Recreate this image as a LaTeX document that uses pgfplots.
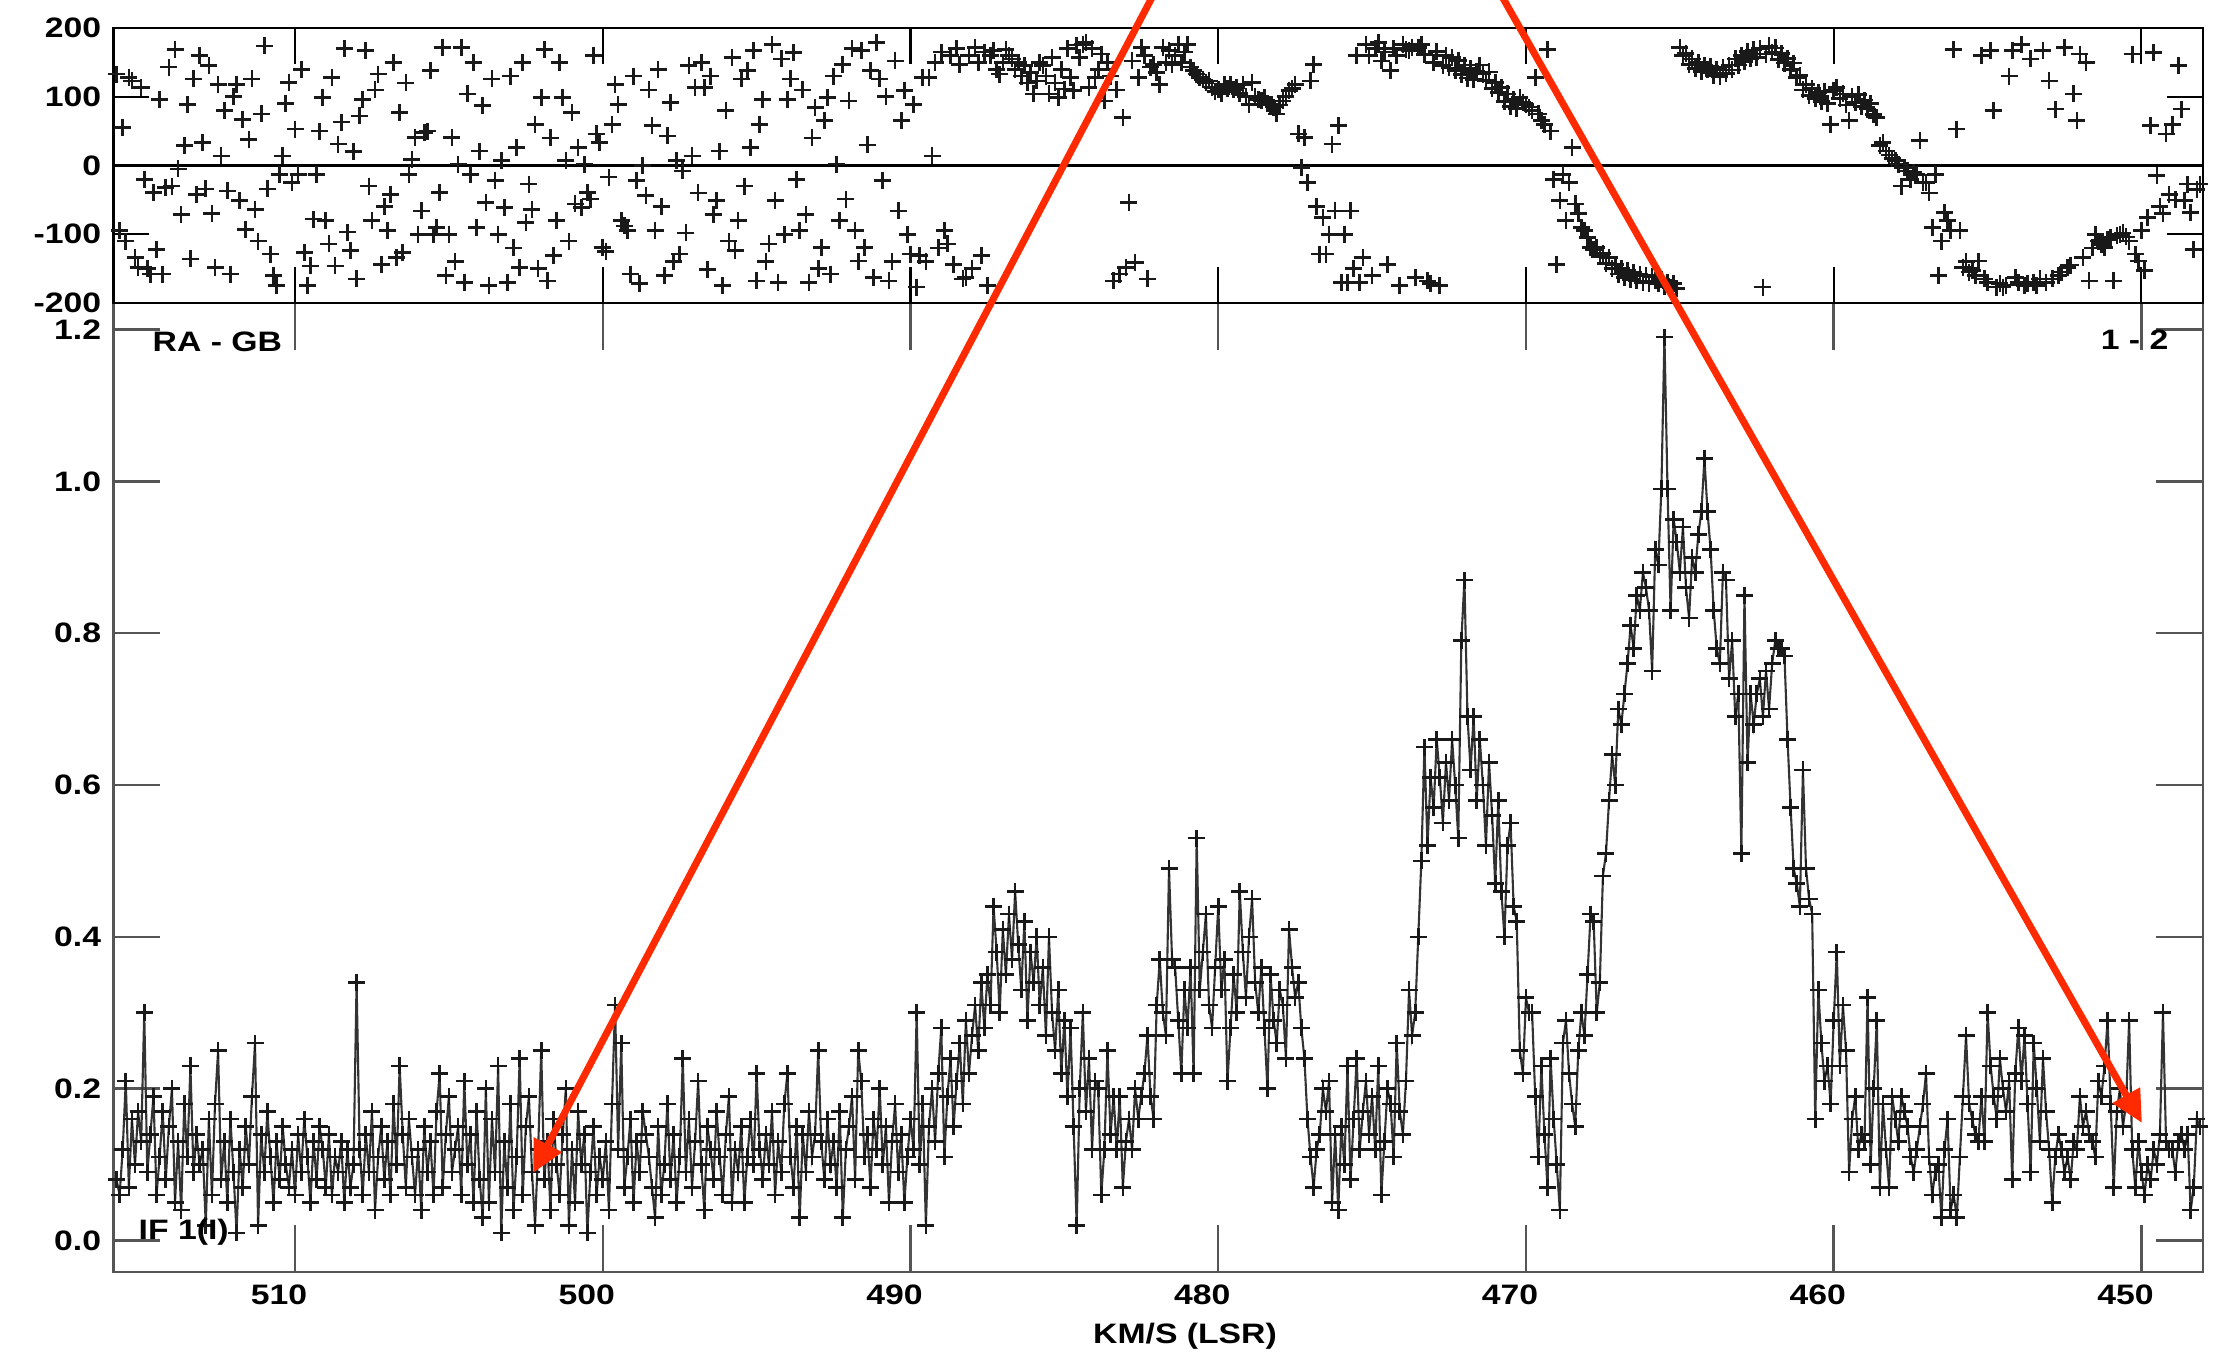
\documentclass[border=0pt]{standalone}
\usepackage{pgfplots}
\pgfplotsset{compat=1.18}
\usepackage{pgfplotstable}
\usepackage{fontspec}
\setmainfont{Liberation Sans}[FakeStretch=1.2]
\usetikzlibrary{arrows.meta}
\definecolor{arrowred}{HTML}{FF2A00}
\definecolor{axgray}{HTML}{555555}
\newcommand{\lab}{\bfseries\fontsize{8}{9}\selectfont}

\pgfplotstableread{
x a p
515.8 0.08 133
515.7 0.06 -95
515.6 0.12 55
515.5 0.21 -110
515.4 0.07 128
515.3 0.16 123
515.2 0.10 -134
515.1 0.17 -148
515.0 0.13 113
514.9 0.30 -20
514.8 0.09 -150
514.7 0.14 -158
514.6 0.19 -39
514.5 0.06 -122
514.4 0.11 96
514.3 0.17 -158
514.2 0.08 -32
514.1 0.15 143
514.0 0.20 -30
513.9 0.05 169
513.8 0.13 -5
513.7 0.04 -71
513.6 0.18 29
513.5 0.11 89
513.4 0.23 -136
513.3 0.09 126
513.2 0.14 -42
513.1 0.10 160
513.0 0.12 33
512.9 0.02 -34
512.8 0.16 145
512.7 0.06 -70
512.6 0.18 -148
512.5 0.25 118
512.4 0.08 14
512.3 0.13 80
512.2 0.05 -37
512.1 0.16 -158
512.0 0.09 100
511.9 0.01 118
511.8 0.12 -51
511.7 0.07 67
511.6 0.15 -93
511.5 0.10 38
511.4 0.19 126
511.3 0.26 -64
511.2 0.02 -110
511.1 0.14 75
511.0 0.09 174
510.9 0.17 -34
510.8 0.11 -129
510.7 0.05 -160
510.6 0.13 -175
510.5 0.08 -13
510.4 0.15 14
510.3 0.10 90
510.2 0.07 121
510.1 0.12 -25
510.0 0.06 53
509.9 0.14 -13
509.8 0.09 140
509.7 0.16 -127
509.6 0.11 -175
509.5 0.05 -146
509.4 0.13 -78
509.3 0.08 -13
509.2 0.15 50
509.1 0.12 99
509.0 0.07 -80
508.9 0.14 -114
508.8 0.06 128
508.7 0.11 -146
508.6 0.09 31
508.5 0.13 63
508.4 0.05 170
508.3 0.12 -97
508.2 0.07 -124
508.1 0.10 20
508.0 0.34 -165
507.9 0.12 72
507.8 0.06 96
507.7 0.14 167
507.6 0.09 -30
507.5 0.17 -80
507.4 0.04 110
507.3 0.11 133
507.2 0.15 -144
507.1 0.08 -60
507.0 0.13 -95
506.9 0.06 -42
506.8 0.18 150
506.7 0.10 -134
506.6 0.23 77
506.5 0.14 -127
506.4 0.07 120
506.3 0.16 -13
506.2 0.11 9
506.1 0.06 41
506.0 0.12 -100
505.9 0.04 -66
505.8 0.15 48
505.7 0.09 50
505.6 0.13 138
505.5 0.06 -100
505.4 0.17 -90
505.3 0.22 -39
505.2 0.07 172
505.1 0.14 -160
505.0 0.19 -100
504.9 0.09 41
504.8 0.12 -140
504.7 0.15 2
504.6 0.06 172
504.5 0.21 -170
504.4 0.10 104
504.3 0.14 -13
504.2 0.05 150
504.1 0.17 -90
504.0 0.08 21
503.9 0.03 87
503.8 0.20 -54
503.7 0.05 -175
503.6 0.16 126
503.5 0.09 -22
503.4 0.23 -100
503.3 0.01 7
503.2 0.13 -61
503.1 0.07 -170
503.0 0.18 130
502.9 0.04 -120
502.8 0.11 26
502.7 0.24 -148
502.6 0.06 150
502.5 0.15 -83
502.4 0.19 -27
502.3 0.09 -64
502.2 0.02 60
502.1 0.12 -150
502.0 0.25 99
501.9 0.08 169
501.8 0.13 -168
501.7 0.04 40
501.6 0.16 -131
501.5 0.10 -80
501.4 0.06 150
501.3 0.14 99
501.2 0.20 7
501.1 0.02 -110
501.0 0.12 77
500.9 0.05 -56
500.8 0.17 26
500.7 0.10 -61
500.6 0.14 2
500.5 0.01 -39
500.4 0.09 -49
500.3 0.15 160
500.2 0.06 46
500.1 0.11 33
500.0 0.08 -119
499.9 0.13 -125
499.8 0.04 -17
499.7 0.18 60
499.6 0.31 118
499.5 0.12 89
499.4 0.26 -80
499.3 0.07 -88
499.2 0.11 -95
499.1 0.16 -158
499.0 0.05 130
498.9 0.13 -22
498.8 0.09 -172
498.7 0.17 0
498.6 0.14 -44
498.5 0.11 110
498.4 0.07 58
498.3 0.03 -95
498.2 0.15 140
498.1 0.06 -60
498.0 0.10 -160
497.9 0.18 43
497.8 0.08 92
497.7 0.14 -140
497.6 0.05 7
497.5 0.11 -129
497.4 0.24 -8
497.3 0.09 -98
497.2 0.16 145
497.1 0.07 14
497.0 0.13 113
496.9 0.21 -40
496.8 0.10 150
496.7 0.04 113
496.6 0.15 -151
496.5 0.12 130
496.4 0.08 -71
496.3 0.17 -51
496.2 0.11 21
496.1 0.06 -175
496.0 0.14 80
495.9 0.19 -110
495.8 0.05 157
495.7 0.12 -124
495.6 0.09 -80
495.5 0.15 126
495.4 0.05 -30
495.3 0.11 138
495.2 0.16 26
495.1 0.10 167
495.0 0.22 -168
494.9 0.12 60
494.8 0.08 96
494.7 0.14 -140
494.6 0.10 -114
494.5 0.17 176
494.4 0.06 -51
494.3 0.13 -170
494.2 0.09 155
494.1 0.18 -100
494.0 0.22 96
493.9 0.11 126
493.8 0.07 164
493.7 0.15 -20
493.6 0.03 -95
493.5 0.14 110
493.4 0.09 -71
493.3 0.17 -170
493.2 0.11 40
493.1 0.14 84
493.0 0.25 -150
492.9 0.13 -119
492.8 0.08 65
492.7 0.16 99
492.6 0.10 -158
492.5 0.13 130
492.4 0.07 2
492.3 0.17 -80
492.2 0.03 147
492.1 0.12 -49
492.0 0.15 94
491.9 0.19 170
491.8 0.08 -95
491.7 0.25 -139
491.6 0.21 167
491.5 0.11 -119
491.4 0.14 30
491.3 0.07 138
491.2 0.16 -163
491.1 0.12 179
491.0 0.20 126
490.9 0.10 -22
490.8 0.15 100
490.7 0.05 -168
490.6 0.13 -140
490.5 0.18 152
490.4 0.09 -66
490.3 0.14 65
490.2 0.05 109
490.1 0.11 -100
490.0 0.16 -129
489.9 0.12 89
489.8 0.30 -177
489.7 0.10 -131
489.6 0.18 128
489.5 0.02 -140
489.4 0.15 128
489.3 0.20 14
489.2 0.13 150
489.1 0.22 -120
489.0 0.28 165
488.9 0.11 -95
488.8 0.19 -114
488.7 0.24 160
488.6 0.15 -144
488.5 0.21 170
488.4 0.26 147
488.3 0.18 -165
488.2 0.29 -163
488.1 0.22 160
488.0 0.27 -150
487.9 0.31 172
487.8 0.25 150
487.7 0.34 -131
487.6 0.28 165
487.5 0.35 -175
487.4 0.31 160
487.3 0.44 167
487.2 0.38 140
487.1 0.30 133
487.0 0.41 150
486.9 0.35 169
486.8 0.43 160
486.7 0.37 155
486.6 0.46 140
486.5 0.39 150
486.4 0.33 130
486.3 0.42 145
486.2 0.29 120
486.1 0.38 135
486.0 0.34 104
485.9 0.40 123
485.8 0.31 150
485.7 0.36 145
485.6 0.27 130
485.5 0.40 104
485.4 0.30 157
485.3 0.25 120
485.2 0.33 99
485.1 0.22 140
485.0 0.29 111
484.9 0.19 170
484.8 0.28 128
484.7 0.15 109
484.6 0.02 175
484.5 0.20 157
484.4 0.30 176
484.3 0.17 179
484.2 0.24 113
484.1 0.12 170
484.0 0.21 128
483.9 0.20 140
483.8 0.06 162
483.7 0.12 94
483.6 0.25 150
483.5 0.14 130
483.4 0.19 -168
483.3 0.12 110
483.2 0.19 -158
483.1 0.07 70
483.0 0.13 -148
482.9 0.16 -54
482.8 0.12 152
482.7 0.20 -141
482.6 0.16 128
482.5 0.19 172
482.4 0.22 160
482.3 0.27 -165
482.2 0.19 143
482.1 0.16 147
482.0 0.31 135
481.9 0.37 118
481.8 0.30 172
481.7 0.27 150
481.6 0.49 167
481.5 0.37 147
481.4 0.36 160
481.3 0.29 176
481.2 0.22 150
481.1 0.33 165
481.0 0.28 176
480.9 0.36 143
480.8 0.22 138
480.7 0.53 133
480.6 0.33 128
480.5 0.38 125
480.4 0.43 120
480.3 0.31 123
480.2 0.28 113
480.1 0.36 108
480.0 0.44 110
479.9 0.33 104
479.8 0.37 118
479.7 0.21 112
479.6 0.28 118
479.5 0.35 110
479.4 0.30 113
479.3 0.46 105
479.2 0.38 118
479.1 0.32 100
479.0 0.40 89
478.9 0.45 121
478.8 0.34 100
478.7 0.30 96
478.6 0.36 94
478.5 0.28 99
478.4 0.20 90
478.3 0.35 89
478.2 0.29 85
478.1 0.26 75
478.0 0.33 88
477.9 0.31 94
477.8 0.24 100
477.7 0.41 109
477.6 0.36 112
477.5 0.32 118
477.4 0.34 46
477.3 0.28 -3
477.2 0.24 41
477.1 0.16 -25
477.0 0.11 123
476.9 0.07 147
476.8 0.12 -60
476.7 0.14 -129
476.6 0.20 -76
476.5 0.17 -129
476.4 0.21 -100
476.3 0.05 31
476.2 0.14 -66
476.1 0.04 58
476.0 0.15 -170
475.9 0.10 -100
475.8 0.23 -170
475.7 0.08 -66
475.6 0.16 -150
475.5 0.24 160
475.4 0.12 -170
475.3 0.17 -134
475.2 0.21 176
475.1 0.14 160
475.0 0.19 -160
474.9 0.12 170
474.8 0.23 179
474.7 0.06 152
474.6 0.13 165
474.5 0.20 -144
474.4 0.18 138
474.3 0.11 170
474.2 0.26 160
474.1 0.17 -175
474.0 0.14 176
473.9 0.21 168
473.8 0.33 167
473.7 0.27 172
473.6 0.30 -163
473.5 0.40 172
473.4 0.50 176
473.3 0.65 161
473.2 0.52 -168
473.1 0.61 -172
473.0 0.57 150
472.9 0.66 166
472.8 0.61 -175
472.7 0.55 145
472.6 0.63 160
472.5 0.58 142
472.4 0.66 157
472.3 0.60 138
472.2 0.53 153
472.1 0.79 132
472.0 0.87 146
471.9 0.69 127
471.8 0.62 141
471.7 0.69 125
471.6 0.58 137
471.5 0.66 146
471.4 0.60 133
471.3 0.52 124
471.2 0.63 136
471.1 0.56 112
471.0 0.47 121
470.9 0.58 106
470.8 0.46 113
470.7 0.40 93
470.6 0.52 104
470.5 0.55 86
470.4 0.44 96
470.3 0.42 83
470.2 0.25 99
470.1 0.22 92
470.0 0.32 89
469.9 0.30 85
469.8 0.30 80
469.7 0.19 128
469.6 0.11 75
469.5 0.23 65
469.4 0.14 60
469.3 0.07 169
469.2 0.24 50
469.1 0.16 -20
469.0 0.10 -144
468.9 0.04 -51
468.8 0.26 -13
468.7 0.29 -80
468.6 0.22 -25
468.5 0.18 26
468.4 0.15 -56
468.3 0.25 -70
468.2 0.30 -90
468.1 0.27 -95
468.0 0.35 -105
467.9 0.43 -119
467.8 0.42 -122
467.7 0.30 -119
467.6 0.34 -132
467.5 0.48 -128
467.4 0.51 -143
467.3 0.58 -134
467.2 0.64 -150
467.1 0.60 -144
467.0 0.70 -158
466.9 0.68 -150
466.8 0.72 -163
466.7 0.76 -153
466.6 0.81 -166
466.5 0.78 -156
466.4 0.85 -168
466.3 0.83 -158
466.2 0.88 -170
466.1 0.86 -160
466.0 0.83 -171
465.9 0.75 -162
465.8 0.91 -168
465.7 0.89 -172
465.6 0.99 -166
465.5 1.19 -176
465.4 0.99 -170
465.3 0.83 -178
465.2 0.95 -172
465.1 0.92 -179
465.0 0.88 172
464.9 0.94 160
464.8 0.86 163
464.7 0.82 147
464.6 0.90 155
464.5 0.88 141
464.4 0.93 150
464.3 0.96 137
464.2 1.03 146
464.1 0.96 139
464.0 0.91 144
463.9 0.83 131
463.8 0.78 140
463.7 0.76 129
463.6 0.88 143
463.5 0.87 134
463.4 0.74 146
463.3 0.79 139
463.2 0.69 155
463.1 0.72 146
463.0 0.51 160
462.9 0.85 151
462.8 0.63 166
462.7 0.72 155
462.6 0.68 168
462.5 0.72 157
462.4 0.74 170
462.3 0.69 -177
462.2 0.75 162
462.1 0.70 174
462.0 0.76 164
461.9 0.79 171
461.8 0.78 154
461.7 0.78 163
461.6 0.77 149
461.5 0.66 156
461.4 0.57 140
461.3 0.49 149
461.2 0.47 128
461.1 0.44 131
461.0 0.62 110
460.9 0.49 118
460.8 0.45 102
460.7 0.43 112
460.6 0.16 97
460.5 0.33 106
460.4 0.26 93
460.3 0.21 108
460.2 0.23 90
460.1 0.18 60
460.0 0.29 109
459.9 0.38 113
459.8 0.23 97
459.7 0.31 104
459.6 0.25 88
459.5 0.09 65
459.4 0.16 100
459.3 0.19 92
459.2 0.12 103
459.1 0.14 86
459.0 0.13 95
458.9 0.32 82
458.8 0.10 90
458.7 0.20 74
458.6 0.29 70
458.5 0.07 29
458.4 0.18 33
458.3 0.12 21
458.2 0.07 15
458.1 0.19 10
458.0 0.16 7
457.9 0.13 2
457.8 0.19 -30
457.7 0.17 -3
457.6 0.15 -8
457.5 0.11 -20
457.4 0.09 -10
457.3 0.12 -13
457.2 0.15 36
457.1 0.18 -25
457.0 0.22 -25
456.9 0.11 -40
456.8 0.06 -90
456.7 0.09 -13
456.6 0.10 -160
456.5 0.03 -110
456.4 0.12 -68
456.3 0.16 -80
456.2 0.04 -95
456.1 0.06 169
456.0 0.03 53
455.9 0.11 -95
455.8 0.19 -148
455.7 0.27 -140
455.6 0.18 -155
455.5 0.16 -153
455.4 0.14 -160
455.3 0.13 -139
455.2 0.19 160
455.1 0.13 -165
455.0 0.30 -170
454.9 0.23 167
454.8 0.19 80
454.7 0.16 -177
454.6 0.24 -172
454.5 0.20 -177
454.4 0.17 -174
454.3 0.21 130
454.2 0.08 167
454.1 0.22 -163
454.0 0.28 -170
453.9 0.21 176
453.8 0.27 -175
453.7 0.18 -172
453.6 0.09 155
453.5 0.26 -170
453.4 0.20 -175
453.3 0.13 -165
453.2 0.24 167
453.1 0.17 -170
453.0 0.12 123
452.9 0.05 -165
452.8 0.11 82
452.7 0.14 -160
452.6 0.12 -155
452.5 0.09 172
452.4 0.11 -148
452.3 0.08 -145
452.2 0.13 104
452.1 0.12 65
452.0 0.19 162
451.9 0.15 -134
451.8 0.17 150
451.7 0.14 -168
451.6 0.13 -120
451.5 0.11 -100
451.4 0.21 -110
451.3 0.19 -115
451.2 0.23 -119
451.1 0.29 -108
451.0 0.18 -105
450.9 0.07 -168
450.8 0.17 -102
450.7 0.20 -100
450.6 0.15 -98
450.5 0.18 -104
450.4 0.29 -110
450.3 0.12 162
450.2 0.07 -129
450.1 0.13 -139
450.0 0.09 -95
449.9 0.06 -153
449.8 0.10 -76
449.7 0.08 58
449.6 0.12 164
449.5 0.10 -15
449.4 0.14 -60
449.3 0.30 -70
449.2 0.13 46
449.1 0.12 -42
449.0 0.12 60
448.9 0.09 -50
448.8 0.13 145
448.7 0.14 82
448.6 0.12 -51
448.5 0.14 -27
448.4 0.04 -68
448.3 0.07 -122
448.2 0.16 -35
448.1 0.15 -27
}\spec

\begin{document}
\begin{tikzpicture}
\path[use as bounding box] (0,0) rectangle (222.8mm,135.4mm);
% lower panel: amplitude
\begin{axis}[
  at={(11.35mm,8.2mm)}, anchor=south west,
  scale only axis, width=208.95mm, height=96.9mm,
  x dir=reverse, xmin=448.0, xmax=515.9,
  ymin=-0.0415, ymax=1.235,
  xtick={450,460,470,480,490,500,510},
  xticklabels={450,460,470,480,490,500,510},
  ytick={0,0.2,0.4,0.6,0.8,1.0,1.2},
  yticklabels={0.0,0.2,0.4,0.6,0.8,1.0,1.2},
  major tick length=4.7mm,
  axis line style={axgray, line width=0.8pt},
  tick style={axgray, line width=0.7pt},
  xticklabel style={font=\lab, xshift=-1.6mm},
  yticklabel style={font=\lab},
]
\addplot[black!80, line width=0.6pt, mark=+, mark size=0.85mm,
  mark options={black!90, line width=0.75pt}] table[x=x,y=a]{\spec};
\end{axis}
% upper panel: phase
\begin{axis}[
  at={(11.35mm,105.1mm)}, anchor=south west,
  scale only axis, width=208.95mm, height=27.5mm,
  x dir=reverse, xmin=448.0, xmax=515.9,
  ymin=-200, ymax=200,
  xtick={450,460,470,480,490,500,510},
  xticklabels={},
  ytick={-200,-100,0,100,200},
  yticklabels={-200,-100,0,100,200},
  extra y ticks={0}, extra y tick labels={},
  extra y tick style={grid=major, major grid style={black, line width=0.6pt}},
  major tick length=3.6mm,
  axis line style={black, line width=0.7pt},
  tick style={black, line width=0.6pt},
  yticklabel style={font=\lab},
]
\addplot[only marks, mark=+, mark size=0.85mm,
  mark options={black!90, line width=0.75pt}] table[x=x,y=p]{\spec};
\end{axis}
\node[anchor=west, font=\lab, inner sep=0pt] at (15.2mm,101.2mm) {RA - GB};
\node[anchor=east, font=\lab, inner sep=0pt] at (216.9mm,101.4mm) {1 - 2};
\node[anchor=west, font=\lab, inner sep=0pt] at (13.8mm,12.2mm) {IF 1(I)};
\node[font=\lab, inner sep=0pt] at (118.5mm,1.8mm) {KM/S (LSR)};
\begin{scope}
\clip (0,0) rectangle (222.8mm,135.4mm);
\draw[arrowred, line width=2pt, -{Triangle[length=3.2mm,width=3mm]}]
  (117.7mm,140.4mm) -- (53.3mm,18.1mm);
\draw[arrowred, line width=2pt, -{Triangle[length=3.2mm,width=3mm]}]
  (147.56mm,140.4mm) -- (214.2mm,23.1mm);
\end{scope}
\end{tikzpicture}
\end{document}
